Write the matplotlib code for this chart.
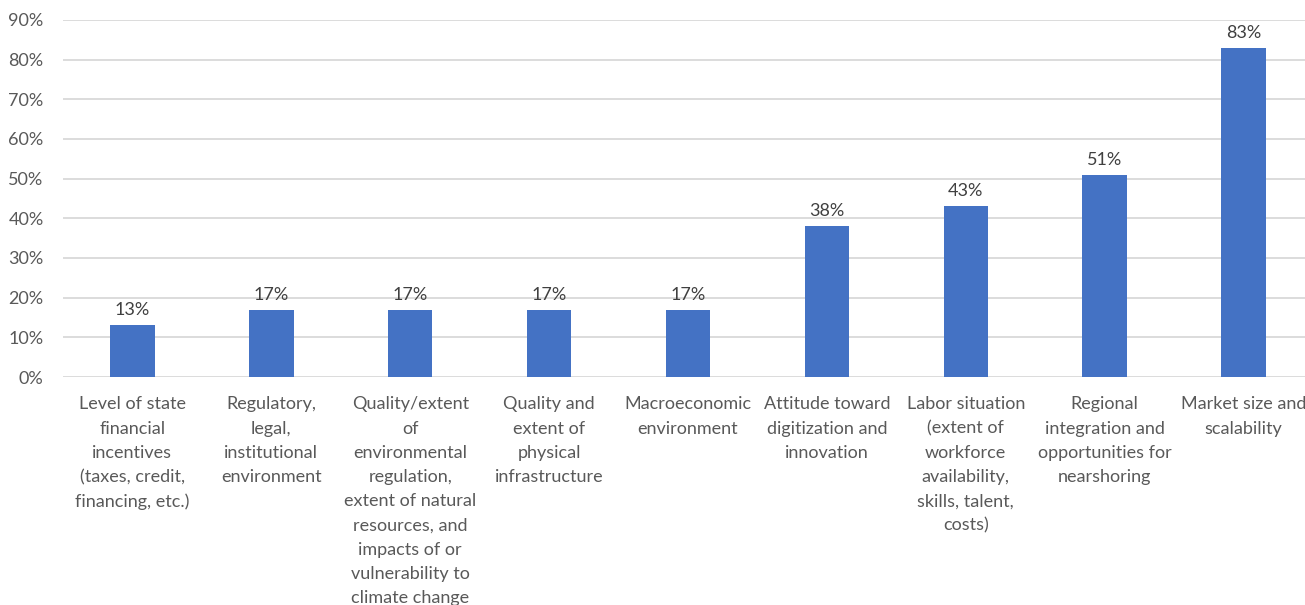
import matplotlib
matplotlib.use("Agg")
import matplotlib.pyplot as plt
from matplotlib.ticker import MultipleLocator, PercentFormatter

plt.rcParams['font.family'] = ['Lato', 'DejaVu Sans']

categories = [
    "Level of state\nfinancial\nincentives\n(taxes, credit,\nfinancing, etc.)",
    "Regulatory,\nlegal,\ninstitutional\nenvironment",
    "Quality/extent\nof\nenvironmental\nregulation,\nextent of natural\nresources, and\nimpacts of or\nvulnerability to\nclimate change",
    "Quality and\nextent of\nphysical\ninfrastructure",
    "Macroeconomic\nenvironment",
    "Attitude toward\ndigitization and\ninnovation",
    "Labor situation\n(extent of\nworkforce\navailability,\nskills, talent,\ncosts)",
    "Regional\nintegration and\nopportunities for\nnearshoring",
    "Market size and\nscalability",
]
values = [13, 17, 17, 17, 17, 38, 43, 51, 83]

BAR = "#4472C4"
GRID = "#D9D9D9"
TEXT = "#595959"

fig = plt.figure(figsize=(13.05, 6.05), dpi=100)
W, H = 1305, 605
ax = fig.add_axes([63 / W, (H - 377) / H, (1313 - 63) / W, (377 - 20) / H])

x = list(range(len(values)))
bars = ax.bar(x, values, width=0.32, color=BAR, zorder=3)

for b, v in zip(bars, values):
    ax.annotate(f"{v}%", (b.get_x() + b.get_width() / 2, v),
                xytext=(0, 5), textcoords="offset points",
                ha="center", va="bottom", fontsize=13, color="#404040")

ax.set_xlim(-0.5, len(values) - 0.5)
ax.set_ylim(0, 90)
ax.yaxis.set_major_locator(MultipleLocator(10))
ax.yaxis.set_major_formatter(PercentFormatter(decimals=0))
ax.grid(axis="y", color=GRID, linewidth=1.3, zorder=0)
for s in ax.spines.values():
    s.set_visible(False)

ax.set_xticks(x)
ax.set_xticklabels(categories, fontsize=13, color=TEXT, linespacing=1.63,
                   va="top", ha="center")
ax.tick_params(axis="x", length=0, pad=14)
ax.tick_params(axis="y", length=0, pad=14, labelsize=13, labelcolor=TEXT)

fig.savefig("out.png", dpi=100)
